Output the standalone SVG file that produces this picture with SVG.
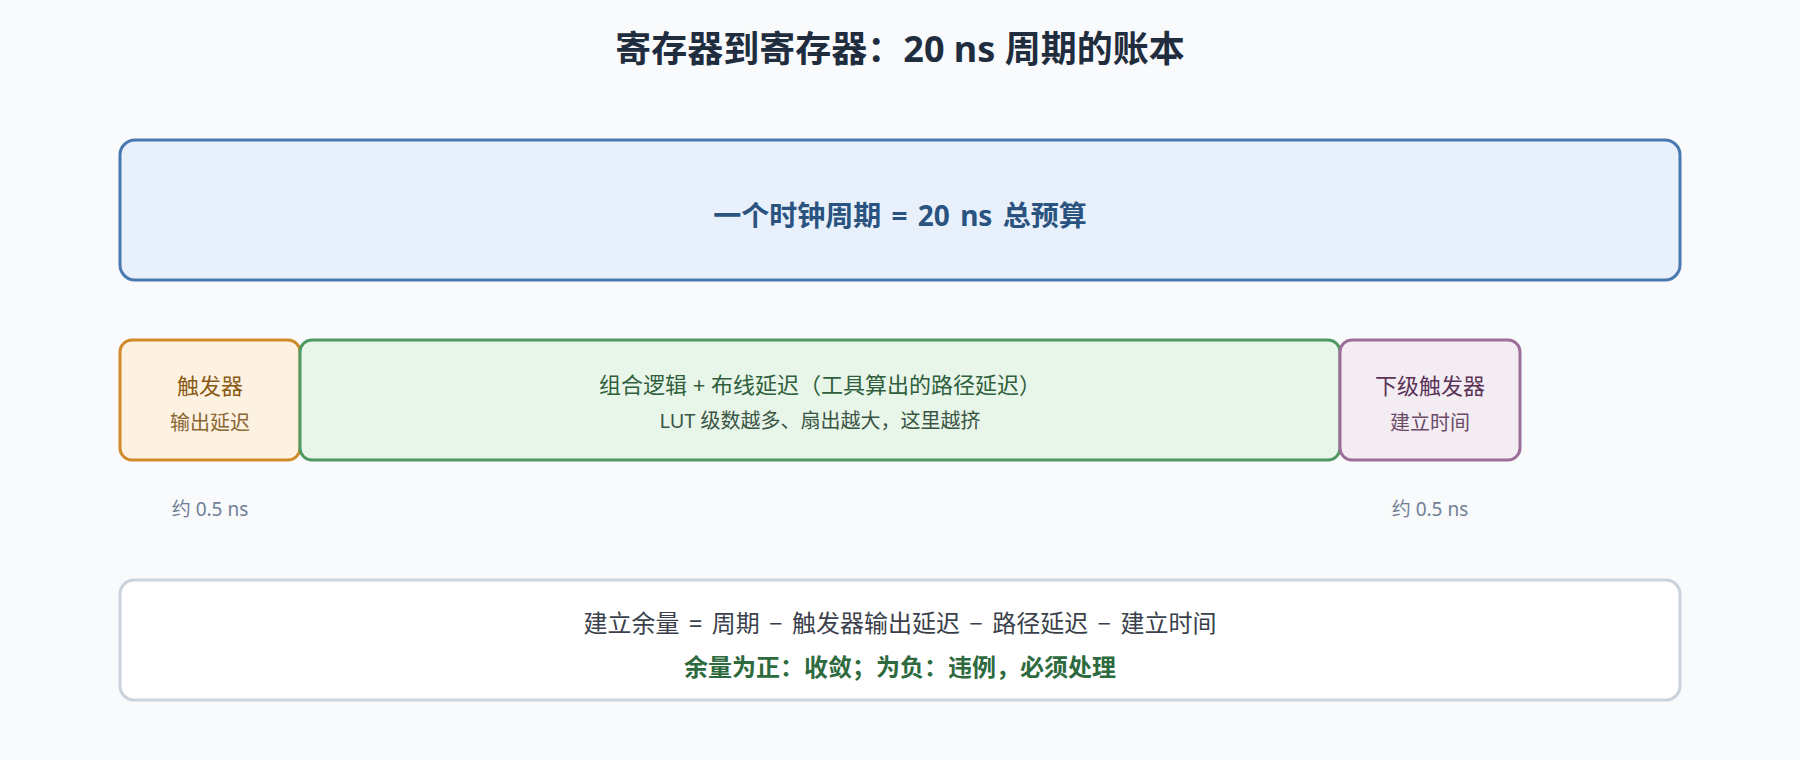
<svg xmlns="http://www.w3.org/2000/svg" width="1800" height="760" viewBox="0 0 1800 760">
<style>
text{font-family:"Noto Sans","Noto Sans CJK SC",sans-serif;text-anchor:middle;dominant-baseline:central}
.title{font-size:36px;font-weight:700;fill:#1f2d3f}
.main{font-size:22px}
.sub{font-size:20px}
.note{font-size:19px;fill:#718096}
</style>
<rect width="1800" height="760" fill="#f8fafc"/>
<text class="title" x="900" y="48">寄存器到寄存器：20 ns 周期的账本</text>
<g id="budget">
<rect x="120" y="140" width="1560" height="140" rx="15" fill="#e8f0fb" stroke="#4a79b2" stroke-width="3"/>
<text x="900" y="215" font-size="28" font-weight="700" fill="#2a5380" word-spacing="3">一个时钟周期 = 20 ns 总预算</text>
</g>
<g id="ff-out">
<rect x="120" y="340" width="180" height="120" rx="12" fill="#fdf2e2" stroke="#d08b2c" stroke-width="3"/>
<text class="main" x="210" y="385" fill="#8a5a14">触发器</text>
<text class="sub" x="210" y="422" fill="#8a6632">输出延迟</text>
</g>
<g id="path">
<rect x="300" y="340" width="1040" height="120" rx="12" fill="#e8f5e9" stroke="#4f9a63" stroke-width="3"/>
<text class="main" x="820" y="384" fill="#2f5f3c">组合逻辑 + 布线延迟（工具算出的路径延迟）</text>
<text class="sub" x="820" y="420" fill="#3a5444">LUT 级数越多、扇出越大，这里越挤</text>
</g>
<g id="ff-setup">
<rect x="1340" y="340" width="180" height="120" rx="12" fill="#f4ecf3" stroke="#9c6e99" stroke-width="3"/>
<text class="main" x="1430" y="385" fill="#5a3357">下级触发器</text>
<text class="sub" x="1430" y="422" fill="#6a4a67">建立时间</text>
</g>
<g id="notes">
<text class="note" x="210" y="509">约 0.5 ns</text>
<text class="note" x="1430" y="509">约 0.5 ns</text>
</g>
<g id="slack">
<rect x="120" y="580" width="1560" height="120" rx="14" fill="#ffffff" stroke="#cbd3dc" stroke-width="3"/>
<text x="900" y="622" font-size="24" fill="#3a3f4b" word-spacing="3">建立余量 = 周期 − 触发器输出延迟 − 路径延迟 − 建立时间</text>
<text x="900" y="666" font-size="24" font-weight="700" fill="#2d6a3e">余量为正：收敛；为负：违例，必须处理</text>
</g>
<g id="connectors"></g>
</svg>
